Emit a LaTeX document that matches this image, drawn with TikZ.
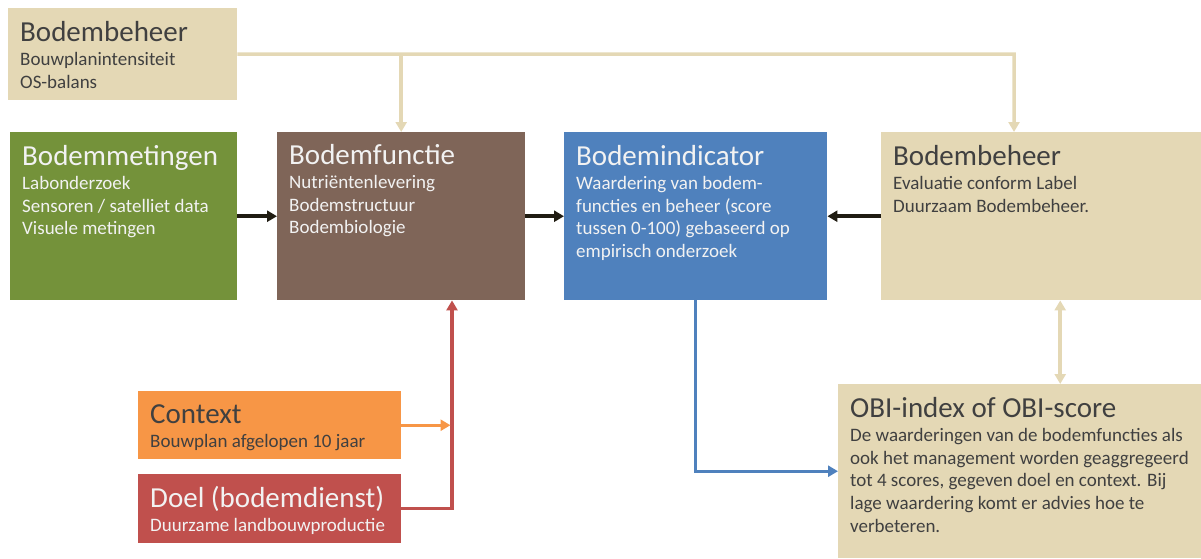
\documentclass[tikz,border=0pt]{standalone}
\usepackage{fontspec}
\setmainfont{Carlito}
\usetikzlibrary{arrows.meta}

\definecolor{zand}{RGB}{228,216,181}
\definecolor{olijf}{RGB}{116,146,58}
\definecolor{bruin}{RGB}{127,101,88}
\definecolor{blauw}{RGB}{79,129,189}
\definecolor{oranje}{RGB}{247,150,70}
\definecolor{rood}{RGB}{192,80,77}
\definecolor{donker}{RGB}{64,64,64}
\definecolor{licht}{RGB}{242,242,242}
\definecolor{zwart}{RGB}{32,28,18}

\newcommand{\titel}[1]{{\fontsize{29}{34}\selectfont #1}\\[1.8pt]}
\newcommand{\inhoud}[2]{\parbox[t]{360pt}{\fontsize{19}{22.7}\selectfont\titel{#1}#2}}

\tikzset{
    blok/.style={anchor=north west, inner sep=0pt, draw=none},
    tekst/.style={anchor=base west, inner sep=0pt},
    pijl/.style={line width=3.5pt, -{Triangle[length=10pt,width=11pt]}},
    dubbelpijl/.style={line width=3.5pt, {Triangle[length=10pt,width=11pt]}-{Triangle[length=10pt,width=11pt]}},
}

\begin{document}
\begin{tikzpicture}[x=1pt, y=-1pt]
    \useasboundingbox (0,0) rectangle (1201,558);
    % vakken
    \node[blok, fill=zand, minimum width=229, minimum height=92] (beheertop) at (8,8) {};
    \node[blok, fill=olijf, minimum width=227, minimum height=168] (meting) at (10,132) {};
    \node[blok, fill=bruin, minimum width=248, minimum height=168] (functie) at (277,132) {};
    \node[blok, fill=blauw, minimum width=263, minimum height=168] (indicator) at (564,132) {};
    \node[blok, fill=zand, minimum width=320, minimum height=168] (beheer) at (881,132) {};
    \node[blok, fill=zand, minimum width=363, minimum height=174] (obi) at (838,384) {};
    \node[blok, fill=oranje, minimum width=263, minimum height=68] (context) at (138,391) {};
    \node[blok, fill=rood, minimum width=263, minimum height=69] (doel) at (138,474) {};
    % teksten
    \node[tekst, text=donker] at ([shift={(12,33)}]beheertop.north west)
        {\inhoud{Bodembeheer}{Bouwplanintensiteit\\OS-balans}};
    \node[tekst, text=licht] at ([shift={(12,33)}]meting.north west)
        {\inhoud{Bodemmetingen}{Labonderzoek\\Sensoren / satelliet data\\Visuele metingen}};
    \node[tekst, text=licht] at ([shift={(12,32)}]functie.north west)
        {\inhoud{Bodemfunctie}{Nutriëntenlevering\\Bodemstructuur\\Bodembiologie}};
    \node[tekst, text=licht] at ([shift={(12,33)}]indicator.north west)
        {\inhoud{Bodemindicator}{Waardering van bodem-\\functies en beheer (score\\tussen 0-100) gebaseerd op\\empirisch onderzoek}};
    \node[tekst, text=donker] at ([shift={(12,33)}]beheer.north west)
        {\inhoud{Bodembeheer}{Evaluatie conform Label\\Duurzaam Bodembeheer.}};
    \node[tekst, text=donker] at ([shift={(12,33)}]obi.north west)
        {\inhoud{OBI-index of OBI-score}{De waarderingen van de bodemfuncties als\\ook het management worden geaggregeerd\\tot 4 scores, gegeven doel en context. Bij\\lage waardering komt er advies hoe te\\verbeteren.}};
    \node[tekst, text=donker] at ([shift={(12,32)}]context.north west)
        {\inhoud{Context}{Bouwplan afgelopen 10 jaar}};
    \node[tekst, text=licht] at ([shift={(12,33)}]doel.north west)
        {\inhoud{Doel (bodemdienst)}{Duurzame landbouwproductie}};
    % verbindingen
    \coordinate (knik) at (1014,54);
    \coordinate (rechts) at (452,508);
    \draw[pijl, zwart] (meting.east) -- (functie.west);
    \draw[pijl, zwart] (functie.east) -- (indicator.west);
    \draw[pijl, zwart] (beheer.west) -- (indicator.east);
    \draw[pijl, zand] (beheertop.east) -- (knik) -- (knik |- beheer.north);
    \draw[pijl, zand] (functie.north |- knik) -- (functie.north);
    \draw[dubbelpijl, zand] ([xshift=19]beheer.south) -- ([xshift=19]beheer.south |- obi.north);
    \draw[pijl, blauw, line width=3pt] (indicator.south) |- (obi.west);
    \draw[pijl, rood] (doel.east) -- (doel.east -| rechts) -- (rechts |- functie.south);
    \draw[pijl, oranje, line width=3pt, shorten >=1.5pt] (context.east) -- (context.east -| rechts);
\end{tikzpicture}
\end{document}
